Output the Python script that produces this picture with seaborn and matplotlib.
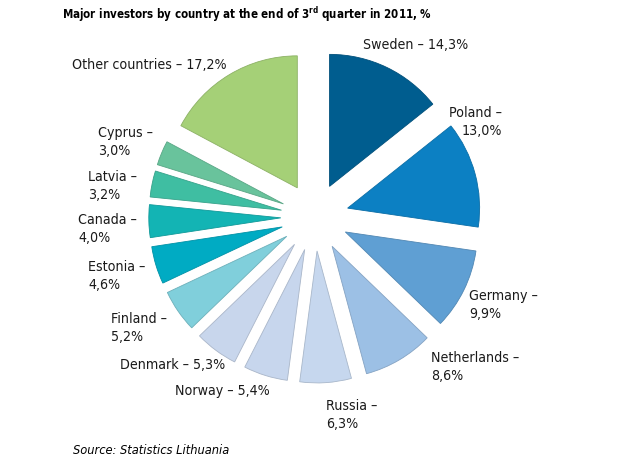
import matplotlib
matplotlib.use("Agg")
import matplotlib.pyplot as plt
import matplotlib.colors as mcolors
import seaborn as sns

# ---- data ----
countries = ["Sweden", "Poland", "Germany", "Netherlands", "Russia", "Norway",
             "Denmark", "Finland", "Estonia", "Canada", "Latvia", "Cyprus",
             "Other countries"]
shares = [14.3, 13.0, 9.9, 8.6, 6.3, 5.4, 5.3, 5.2, 4.6, 4.0, 3.2, 3.0, 17.2]
colors = ["#005d8f", "#0c80c3", "#5f9fd3", "#9cc0e5", "#c6d7ee", "#c7d6ed",
          "#c8d6ec", "#80cfdb", "#00abc3", "#13b4b4", "#3fbea2", "#69c39c",
          "#a5d077"]
two_line = [False, True, True, True, True, False, False, True, True, True,
            True, True, False]
title = r"Major investors by country at the end of 3$^{\mathrm{rd}}$ quarter in 2011, %"
source = "Source: Statistics Lithuania"

# ---- layout (pixel coordinates of label anchors, image y downwards) ----
label_xy = [(363, 45), (502, 122), (469, 305), (431, 367), (326, 415),
            (175, 391), (120, 365), (111, 328), (88, 276), (78, 229),
            (88, 186), (98, 142), (72, 65)]
label_ha = ["left", "right", "left", "left", "left", "left", "left", "left",
            "left", "left", "left", "left", "left"]

W, H = 623, 466
sns.set_theme(style="white")
plt.rcParams["font.family"] = ["DejaVu Sans"]
plt.rcParams["font.stretch"] = "condensed"
plt.rcParams["mathtext.fontset"] = "custom"
plt.rcParams["mathtext.rm"] = "DejaVu Sans:weight=bold:stretch=condensed"
plt.rcParams["mathtext.bf"] = "DejaVu Sans:weight=bold:stretch=condensed"

fig = plt.figure(figsize=(W / 100, H / 100), dpi=100)
fig.patch.set_facecolor("white")
ax = fig.add_axes([0, 0, 1, 1])

edge = [tuple(c * 0.85 for c in mcolors.to_rgb(col)) for col in colors]
wedges, _ = ax.pie(shares, colors=colors, startangle=90, counterclock=False,
                   explode=[34] * len(shares), radius=132,
                   center=(314.8, H - 217),
                   wedgeprops=dict(linewidth=0.6))
for w, ec in zip(wedges, edge):
    w.set_edgecolor(ec)

ax.set_xlim(0, W)
ax.set_ylim(0, H)
ax.set_aspect("equal")
ax.axis("off")

def fmt(v):
    return f"{v:.1f}".replace(".", ",") + "%"

for name, v, tl, (x, y), ha in zip(countries, shares, two_line, label_xy, label_ha):
    txt = f"{name} –\n{fmt(v)}" if tl else f"{name} – {fmt(v)}"
    ax.text(x, H - y, txt, ha=ha, va="center", multialignment=ha,
            fontsize=10.2, fontstretch="condensed", color="#1a1a1a",
            linespacing=1.35)

ax.text(62, H - 15, title, ha="left", va="center", fontsize=8.3,
        fontweight="bold", fontstretch="condensed", color="black")
ax.text(73, H - 451, source, ha="left", va="center", fontsize=9.2,
        fontstyle="italic", fontstretch="condensed", color="black")

fig.savefig("out.png", dpi=100, facecolor="white")
